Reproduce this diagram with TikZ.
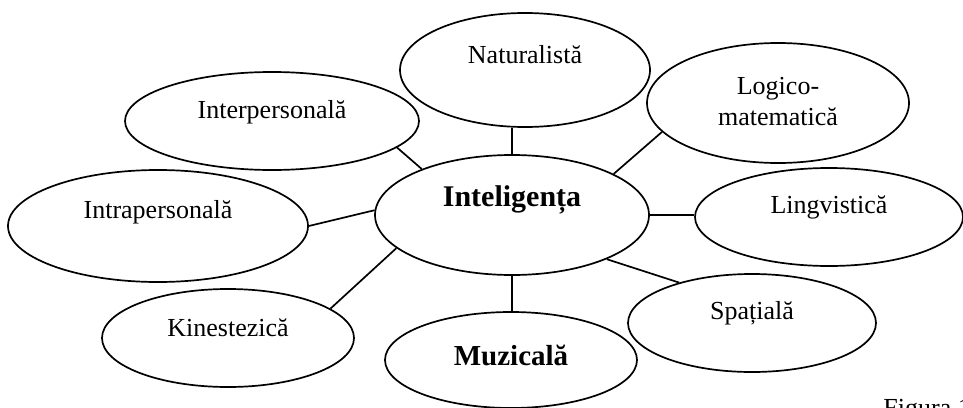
\documentclass[tikz,border=0pt]{standalone}
\usepackage{fontspec}
\setmainfont{Liberation Serif}
\usetikzlibrary{shapes.geometric}
\begin{document}
\begin{tikzpicture}[x=0.5pt,y=-0.5pt,
  oval/.style={draw, ellipse, inner sep=0pt, line width=0.85pt},
  lbl/.style={font=\fontsize{13}{15.5}\selectfont, inner sep=0pt, align=center},
  blbl/.style={font=\fontsize{15}{18}\selectfont\bfseries, inner sep=0pt},
  link/.style={line width=0.85pt}]
\useasboundingbox (0,0) rectangle (963,407);
\clip (0,0) rectangle (963,407);

% ellipses
\node[oval, minimum width=137pt, minimum height=60pt] (cen)   at (512,215) {};
\node[oval, minimum width=125pt, minimum height=57pt] (nat)   at (525,70)  {};
\node[oval, minimum width=131pt, minimum height=60pt] (log)   at (778,103) {};
\node[oval, minimum width=147pt, minimum height=49pt] (inter) at (272,121) {};
\node[oval, minimum width=150pt, minimum height=56pt] (intra) at (158,226) {};
\node[oval, minimum width=134pt, minimum height=49pt] (ling)  at (829,217) {};
\node[oval, minimum width=124pt, minimum height=49pt] (spat)  at (752,323) {};
\node[oval, minimum width=126pt, minimum height=49pt] (kin)   at (228,338) {};
\node[oval, minimum width=126pt, minimum height=48pt] (muz)   at (511,360) {};

% labels
\node[blbl] (tcen) at ([yshift=7.5pt]cen.center) {Inteligența};
\node[lbl] (tnat) at ([yshift=7.5pt]nat.center) {Naturalistă};
\node[lbl] (tlog) at ([yshift=0.8pt]log.center) {Logico-\\matematică};
\node[lbl] (tinter) at ([yshift=4.5pt]inter.center) {Interpersonală};
\node[lbl] (tintra) at ([yshift=7pt]intra.center) {Intrapersonală};
\node[lbl] (tling) at ([yshift=5pt]ling.center) {Lingvistică};
\node[lbl] (tspat) at ([yshift=5pt]spat.center) {Spațială};
\node[lbl] (tkin) at ([yshift=5pt]kin.center) {Kinestezică};
\node[blbl, font=\fontsize{14.5}{17}\selectfont\bfseries] (tmuz) at ([yshift=2.5pt]muz.center) {Muzicală};
\node[lbl, anchor=north west] (fig) at (883,399) {Figura 1};

% connectors
\draw[link] (cen.north) -- (cen.north |- nat.south);
\draw[link] (cen.22.6) -- (log.194);
\draw[link] (cen.153.4) -- (inter.-12);
\draw[link] (cen.178) -- (intra.east);
\draw[link] (cen.196.9) -- (kin.16);
\draw[link] (cen.-25.3) -- (spat.151.4);
\draw[link] (cen.east) -- (cen.east -| ling.west);
\draw[link] (cen.south) -- (cen.south |- muz.north);
\end{tikzpicture}
\end{document}
